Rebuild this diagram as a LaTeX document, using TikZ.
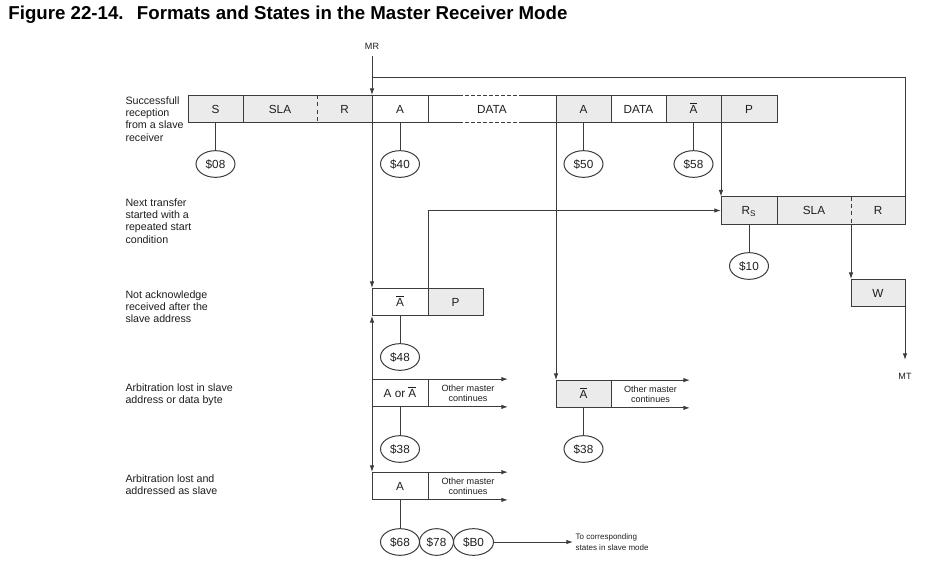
\documentclass[tikz,border=0pt]{standalone}
\usepackage{fontspec}
\setmainfont{Liberation Sans}
\usetikzlibrary{arrows.meta,positioning,shapes.geometric}
\definecolor{cellgray}{HTML}{EBEBEB}
\definecolor{ink}{HTML}{3C3C3C}
\definecolor{txt}{HTML}{1E1E1E}
\newcommand{\nack}{$\overline{\hbox{A}}$}

\begin{document}
\begin{tikzpicture}[x=0.75pt, y=-0.75pt, line width=0.75pt,
  fld/.style={minimum width=41.25pt, minimum height=20.8pt, inner sep=0pt, outer sep=0pt,
              text height=6.3pt, text depth=0pt, font=\fontsize{8.8}{10}\selectfont, text=txt},
  grey/.style={fill=cellgray},
  boxed/.style={fld, draw=ink},
  omc/.style={minimum width=60pt, minimum height=20.8pt, inner sep=0pt, outer sep=0pt,
              align=center, font=\fontsize{6.8}{7.5}\selectfont, text=txt},
  code/.style={ellipse, draw=ink, minimum width=29.25pt, minimum height=20pt, inner sep=0pt,
               outer sep=0pt, text height=6.3pt, text depth=0pt,
               font=\fontsize{8.8}{10}\selectfont, text=txt},
  note/.style={anchor=north west, align=left, inner sep=0pt,
               font=\fontsize{8}{9.2}\selectfont, text=txt},
  tag/.style={font=\fontsize{6.8}{8}\selectfont, text=txt},
  ln/.style={draw=ink},
  arr/.style={ln, -{Latex[length=5pt,width=3.4pt]}},
  arrboth/.style={ln, {Latex[length=5pt,width=3.4pt]}-{Latex[length=5pt,width=3.4pt]}}
]
  \useasboundingbox (0,0) rectangle (951,568);

  \node[anchor=west, inner sep=0pt, text=black,
        font=\fontsize{14}{16}\selectfont\bfseries] (title) at (8,15)
    {Figure 22-14.\hspace{10pt}Formats and States in the Master Receiver Mode};

  % row 1: successful reception
  \node[fld, grey] (s) at (215.5,109) {S};
  \node[fld, grey, minimum width=55.5pt, right=0pt of s] (sla) {SLA};
  \node[fld, grey, right=0pt of sla] (r) {R};
  \node[fld, minimum width=42pt, right=0pt of r] (a) {A};
  \node[fld, minimum width=96pt, right=0pt of a] (data) {DATA};
  \node[fld, grey, right=0pt of data] (a2) {A};
  \node[fld, right=0pt of a2] (data2) {DATA};
  \node[fld, grey, right=0pt of data2] (na) {\nack};
  \node[fld, grey, minimum width=42pt, right=0pt of na] (p) {P};
  \draw[ln] (s.north west) rectangle (p.south east);
  \foreach \f in {sla,a,data,a2,data2,na,p}
    \draw[ln] (\f.north west) -- (\f.south west);
  \draw[ln, dash pattern=on 3pt off 2.5pt] (r.north west) -- (r.south west);
  \draw[white, line width=1.2pt, dash pattern=on 2pt off 2.5pt]
    ([xshift=26pt]data.north west) -- ([xshift=-27pt]data.north east)
    ([xshift=26pt]data.south west) -- ([xshift=-27pt]data.south east);

  \node[code] (c08) at (215.5,164) {\$08};
  \node[code] (c40) at (400,164) {\$40};
  \node[code] (c50) at (583.5,164) {\$50};
  \node[code] (c58) at (693.5,164) {\$58};
  \draw[ln] (s.south) -- (c08.north);
  \draw[ln] (a.south) -- (c40.north);
  \draw[ln] (a2.south) -- (c50.north);
  \draw[ln] (na.south) -- (c58.north);

  % row 2: repeated start
  \node[fld, grey, minimum width=42pt] (rs) at (749,210.5) {R\textsubscript{S}};
  \node[fld, grey, minimum width=55.5pt, right=0pt of rs] (sla2) {SLA};
  \node[fld, grey, minimum width=40.5pt, right=0pt of sla2] (r2) {R};
  \draw[ln] (rs.north west) rectangle (r2.south east);
  \draw[ln] (sla2.north west) -- (sla2.south west);
  \draw[ln, dash pattern=on 3pt off 2.5pt] (r2.north west) -- (r2.south west);
  \node[code] (c10) at (749,266) {\$10};
  \draw[ln] (rs.south) -- (c10.north);
  \node[boxed, grey, minimum width=40.5pt] (w) at (878,293) {W};

  % row 3: not acknowledge
  \node[boxed, minimum width=42pt] (na3) at (400,302) {\nack};
  \node[boxed, grey, right=0pt of na3] (p3) {P};
  \node[code] (c48) at (400,357) {\$48};
  \draw[ln] (na3.south) -- (c48.north);

  % row 4: arbitration lost
  \node[boxed, minimum width=42pt] (aon) at (400,393) {A or \nack};
  \node[omc, right=0pt of aon] (omc1) {Other master\\continues};
  \node[code] (c38a) at (400,449) {\$38};
  \draw[ln] (aon.south) -- (c38a.north);
  \node[boxed, grey] (na4) at (583.5,394) {\nack};
  \node[omc, minimum width=59.25pt, right=0pt of na4] (omc2) {Other master\\continues};
  \node[code] (c38b) at (583.5,449) {\$38};
  \draw[ln] (na4.south) -- (c38b.north);

  % row 5: addressed as slave
  \node[boxed, minimum width=42pt] (a5) at (400,486) {A};
  \node[omc, right=0pt of a5] (omc3) {Other master\\continues};
  \node[code] (c68) at (400,542) {\$68};
  \node[code, minimum width=25.5pt, right=0pt of c68] (c78) {\$78};
  \node[code, minimum width=30pt, right=0pt of c78] (cb0) {\$B0};
  \draw[ln] (a5.south) -- (c68.north);
  \node[anchor=west, align=left, inner sep=2pt, outer sep=0pt, text=txt,
        font=\fontsize{6}{8.2}\selectfont] (slv) at (573,542)
    {To corresponding\\states in slave mode};
  \draw[arr] (cb0.east) -- (slv.west);

  \foreach \b/\o in {aon/omc1, na4/omc2, a5/omc3} {
    \draw[arr] (\b.north east) -- (\o.north east);
    \draw[arr] (\b.south east) -- (\o.south east);
  }

  % flow lines
  \node[tag, inner ysep=5pt] (mr) at (372,46) {MR};
  \coordinate (loop) at (372,77);
  \draw[arr] (mr.south) -- (a.north west);
  \draw[ln] (r2.north east) |- (loop);
  \draw[arr] (a.south west) -- (na3.north west);
  \draw[arrboth] (na3.south west) -- (a5.north west);
  \draw[arr] (a2.south west) -- (na4.north west);
  \draw[arr] (na.south east) -- (rs.north west);
  \draw[arr] (p3.north west) |- (rs.west);
  \draw[arr] (r2.south west) -- (w.north west);
  \coordinate (mtin) at (905,360);
  \draw[arr] (w.south east) -- (mtin);
  \node[tag] (mt) at (905,376) {MT};

  % row captions
  \node[note] (n1) at (125,96) {Successfull\\reception\\from a slave\\receiver};
  \node[note] (n2) at (125,198) {Next transfer\\started with a\\repeated start\\condition};
  \node[note] (n3) at (125,290) {Not acknowledge\\received after the\\slave address};
  \node[note] (n4) at (125,383) {Arbitration lost in slave\\address or data byte};
  \node[note] (n5) at (125,474) {Arbitration lost and\\addressed as slave};
\end{tikzpicture}
\end{document}
